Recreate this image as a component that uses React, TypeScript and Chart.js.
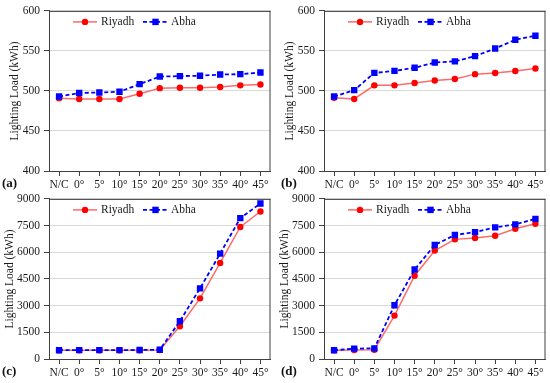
import React, { useEffect, useRef } from "react";
import { Chart, registerables } from "chart.js";

Chart.register(...registerables);

const categories = ["N/C", "0°", "5°", "10°", "15°", "20°", "25°", "30°", "35°", "40°", "45°"];
const seriesNames = ["Riyadh", "Abha"];

const riyadhA = [491, 490, 490, 490, 496.5, 503.5, 504, 504, 505, 507, 508];
const abhaA = [493, 497.5, 498, 499, 508.5, 518, 518.5, 519, 520.5, 521, 523];
const riyadhB = [491.5, 490, 507, 507, 510, 513, 515, 521, 522.5, 525, 528];
const abhaB = [493, 501, 522.5, 525, 529, 535.5, 537, 543.5, 553, 564, 569];
const riyadhC = [491, 490, 490, 490, 496, 503, 1845, 3410, 5400, 7420, 8290];
const abhaC = [493, 497, 498, 499, 508, 518, 2125, 3970, 5925, 7920, 8740];
const riyadhD = [491, 500, 515, 2440, 4680, 6095, 6725, 6800, 6930, 7320, 7600];
const abhaD = [493, 580, 600, 3020, 5030, 6410, 6970, 7135, 7400, 7565, 7880];

const yTicksSmall = { min: 400, max: 600, step: 50 };
const yTicksLarge = { min: 0, max: 9000, step: 1500 };

const panelLabels = ["(a)", "(b)", "(c)", "(d)"];
const yTitle = "Lighting Load (kWh)";

const FONT = "'Liberation Serif', 'DejaVu Serif', serif";
const FS = 11.5;
const RED = "#ff0000";
const RED_LINE = "#ff6a6a";
const BLUE = "#0000ff";
const AXIS = "#404040";
const GRID = "#d9d9d9";
const TEXT = "#1a1a1a";

const frameAndLegend = {
  id: "frameAndLegend",
  afterDatasetsDraw(chart: any) {
    const { ctx, chartArea } = chart;
    const { left, right, top, bottom } = chartArea;
    ctx.save();
    ctx.strokeStyle = AXIS;
    ctx.lineWidth = 1;
    ctx.beginPath();
    ctx.moveTo(left, top + 0.5);
    ctx.lineTo(right, top + 0.5);
    ctx.moveTo(right - 0.5, top);
    ctx.lineTo(right - 0.5, bottom);
    ctx.stroke();

    const y = top + 11;
    ctx.strokeStyle = RED_LINE;
    ctx.lineWidth = 1.5;
    ctx.setLineDash([]);
    ctx.beginPath();
    ctx.moveTo(left + 24, y);
    ctx.lineTo(left + 48, y);
    ctx.stroke();
    ctx.fillStyle = RED;
    ctx.beginPath();
    ctx.arc(left + 36, y, 3.2, 0, Math.PI * 2);
    ctx.fill();
    ctx.font = FS + "px " + FONT;
    ctx.fillStyle = TEXT;
    ctx.textBaseline = "middle";
    ctx.textAlign = "left";
    ctx.fillText(seriesNames[0], left + 52, y);

    ctx.strokeStyle = BLUE;
    ctx.lineWidth = 1.8;
    ctx.setLineDash([4, 2.5]);
    ctx.beginPath();
    ctx.moveTo(left + 94, y);
    ctx.lineTo(left + 119, y);
    ctx.stroke();
    ctx.setLineDash([]);
    ctx.fillStyle = BLUE;
    ctx.fillRect(left + 106.5 - 3.2, y - 3.2, 6.4, 6.4);
    ctx.fillStyle = TEXT;
    ctx.fillText(seriesNames[1], left + 122, y);
    ctx.restore();
  },
};

type PanelProps = {
  riyadh: number[];
  abha: number[];
  yt: { min: number; max: number; step: number };
  label: string;
  left: number;
  top: number;
  titlePad: number;
};

function Panel({ riyadh, abha, yt, label, left, top, titlePad }: PanelProps) {
  const ref = useRef<HTMLCanvasElement | null>(null);
  useEffect(() => {
    if (!ref.current) return;
    const chart = new Chart(ref.current, {
      type: "line",
      data: {
        labels: categories,
        datasets: [
          {
            label: seriesNames[0],
            data: riyadh,
            borderColor: RED_LINE,
            backgroundColor: RED,
            borderWidth: 1.5,
            pointStyle: "circle",
            pointRadius: 3.2,
            pointBorderWidth: 0,
            pointBackgroundColor: RED,
            tension: 0,
            order: 2,
          },
          {
            label: seriesNames[1],
            data: abha,
            borderColor: BLUE,
            backgroundColor: BLUE,
            borderWidth: 1.8,
            borderDash: [4, 2.5],
            pointStyle: "rect",
            pointRadius: 4.5,
            pointBorderWidth: 0,
            pointBackgroundColor: BLUE,
            tension: 0,
            order: 1,
          },
        ],
      },
      options: {
        animation: false,
        responsive: false,
        maintainAspectRatio: false,
        devicePixelRatio: 1,
        layout: { padding: { top: 10, right: 3, left: 0, bottom: 0 } },
        plugins: { legend: { display: false }, tooltip: { enabled: false } },
        scales: {
          x: {
            type: "category",
            offset: true,
            afterFit: (s: any) => {
              s.height = 21;
            },
            grid: {
              display: true,
              offset: false,
              drawOnChartArea: false,
              drawTicks: true,
              tickLength: 5,
              tickColor: AXIS,
              color: AXIS,
            },
            border: { color: AXIS, width: 1 },
            ticks: {
              font: { family: FONT, size: FS },
              color: TEXT,
              padding: 2,
              maxRotation: 0,
              autoSkip: false,
            },
          },
          y: {
            min: yt.min,
            max: yt.max,
            afterFit: (s: any) => {
              s.width = 49;
            },
            grid: {
              color: GRID,
              tickColor: AXIS,
              tickLength: 5,
              drawTicks: true,
            },
            border: { color: AXIS, width: 1 },
            ticks: {
              stepSize: yt.step,
              font: { family: FONT, size: FS },
              color: TEXT,
              padding: 4,
              callback: (v: any) => String(v),
            },
            title: {
              display: true,
              text: yTitle,
              font: { family: FONT, size: FS },
              color: TEXT,
              padding: { top: titlePad, bottom: 0 },
            },
          },
        },
      },
      plugins: [frameAndLegend],
    });
    return () => chart.destroy();
  }, []);
  return (
    <div style={{ position: "absolute", left, top, width: 275, height: 192 }}>
      <canvas ref={ref} width={275} height={192} style={{ width: 275, height: 192, display: "block" }} />
      <div
        style={{
          position: "absolute",
          left: label === "(a)" || label === "(c)" ? 2 : 6,
          top: 175,
          fontFamily: FONT,
          fontWeight: "bold",
          fontSize: 13,
          color: "#111",
          lineHeight: "16px",
        }}
      >
        {label}
      </div>
    </div>
  );
}

export default function App() {
  return (
    <div
      style={{
        position: "fixed",
        left: 0,
        top: 0,
        width: 550,
        height: 383,
        background: "#fff",
        overflow: "hidden",
      }}
    >
      <Panel riyadh={riyadhA} abha={abhaA} yt={yTicksSmall} label={panelLabels[0]} left={0} top={0} titlePad={8} />
      <Panel riyadh={riyadhB} abha={abhaB} yt={yTicksSmall} label={panelLabels[1]} left={275} top={0} titlePad={8} />
      <Panel riyadh={riyadhC} abha={abhaC} yt={yTicksLarge} label={panelLabels[2]} left={0} top={188} titlePad={3} />
      <Panel riyadh={riyadhD} abha={abhaD} yt={yTicksLarge} label={panelLabels[3]} left={275} top={188} titlePad={3} />
    </div>
  );
}
